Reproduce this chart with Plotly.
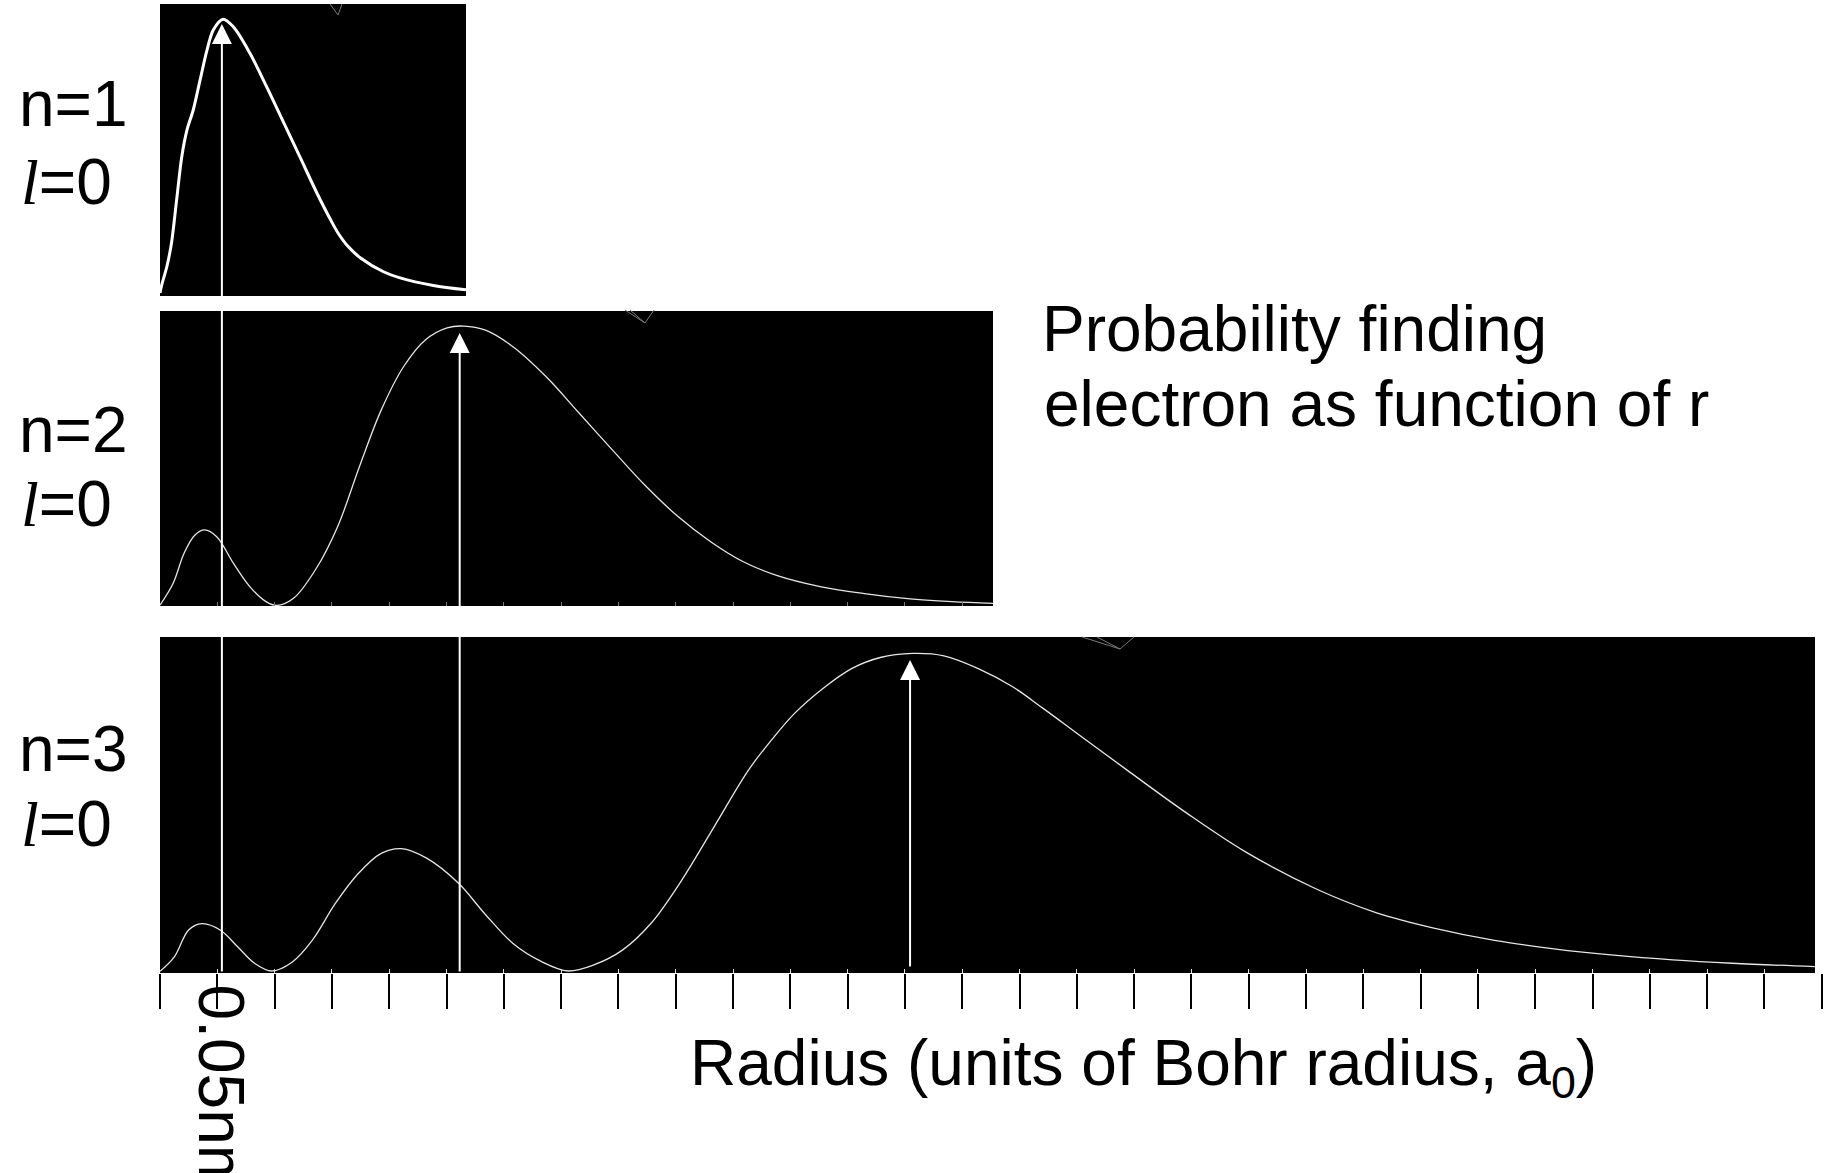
import plotly.graph_objects as go

W, H = 1832, 1173

# Radial probability of the hydrogen s states, r in Bohr radii (a0),
# probability as a fraction of each panel's height.
r_n1 = [0.00, 0.03, 0.12, 0.20, 0.29, 0.38, 0.47, 0.58, 0.70, 0.82, 0.93,
        1.10, 1.28, 1.57, 1.86, 2.15, 2.44, 2.74, 2.98, 3.11, 3.28, 3.50,
        3.90, 4.19, 4.77, 5.34]
p_n1 = [0.010, 0.038, 0.101, 0.181, 0.329, 0.477, 0.568, 0.637, 0.740,
        0.842, 0.911, 0.948, 0.922, 0.831, 0.717, 0.597, 0.477, 0.352,
        0.260, 0.215, 0.170, 0.130, 0.083, 0.062, 0.036, 0.021]

r_n2 = [0.00, 0.23, 0.42, 0.61, 0.78, 0.99, 1.28, 1.57, 1.85, 2.04, 2.33,
        2.71, 3.10, 3.48, 3.86, 4.25, 4.63, 5.01, 5.30, 5.68, 6.16, 6.74,
        7.31, 7.89, 8.46, 9.03, 9.61, 10.18, 10.76, 11.52, 12.29, 13.05,
        13.82, 14.54]
p_n2 = [0.003, 0.077, 0.179, 0.241, 0.258, 0.235, 0.145, 0.065, 0.015,
        0.002, 0.026, 0.122, 0.269, 0.472, 0.664, 0.811, 0.902, 0.943,
        0.949, 0.935, 0.879, 0.777, 0.655, 0.530, 0.410, 0.305, 0.218,
        0.150, 0.104, 0.066, 0.042, 0.025, 0.015, 0.009]

r_n3 = [0.00, 0.25, 0.50, 0.73, 1.05, 1.35, 1.65, 1.95, 2.31, 2.66, 3.06,
        3.46, 3.86, 4.21, 4.66, 5.21, 5.66, 6.16, 6.66, 7.12, 7.57, 8.07,
        8.57, 9.07, 9.67, 10.27, 10.67, 11.07, 11.57, 12.07, 12.57, 13.13,
        13.68, 14.28, 14.88, 15.40, 16.03, 16.86, 17.90, 18.93, 20.18,
        21.22, 22.25, 23.29, 24.33, 25.37, 26.40, 27.44, 28.88]
p_n3 = [0.005, 0.048, 0.128, 0.147, 0.128, 0.079, 0.029, 0.006, 0.033,
        0.098, 0.207, 0.296, 0.356, 0.370, 0.341, 0.267, 0.178, 0.088,
        0.034, 0.006, 0.024, 0.068, 0.148, 0.267, 0.435, 0.604, 0.693,
        0.772, 0.847, 0.906, 0.939, 0.951, 0.944, 0.906, 0.852, 0.789,
        0.710, 0.606, 0.478, 0.362, 0.250, 0.180, 0.133, 0.097, 0.072,
        0.053, 0.039, 0.029, 0.019]

# Most probable radius of each state (a0)
peak_r = [1.08, 5.23, 13.09]
peak_label = "0.05nm"

state_n = ["n=1", "n=2", "n=3"]
state_l = ["0", "0", "0"]

FONT = "Liberation Sans, Arial, sans-serif"
SERIF = "Liberation Serif, Times New Roman, serif"
FS = 64


def px(x):
    return x / W


def py(y):
    return 1 - y / H


fig = go.Figure()

fig.add_trace(go.Scatter(x=r_n1, y=p_n1, mode="lines", xaxis="x", yaxis="y",
                         line=dict(color="white", width=3, shape="spline",
                                   smoothing=0.9),
                         hoverinfo="skip", showlegend=False))
fig.add_trace(go.Scatter(x=r_n2, y=p_n2, mode="lines", xaxis="x2", yaxis="y2",
                         line=dict(color="#e6e6e6", width=1.3, shape="spline"),
                         hoverinfo="skip", showlegend=False))
fig.add_trace(go.Scatter(x=r_n3, y=p_n3, mode="lines", xaxis="x3", yaxis="y3",
                         line=dict(color="#e6e6e6", width=1.3, shape="spline"),
                         hoverinfo="skip", showlegend=False))
# carrier for the radius scale below the panels
fig.add_trace(go.Scatter(x=[0], y=[0], mode="markers", xaxis="x4", yaxis="y4",
                         marker=dict(opacity=0), hoverinfo="skip",
                         showlegend=False))

x0 = 160          # left edge of every panel, px
scale = 57.3      # px per a0
panels = [  # (right px, top px, bottom px)
    (466, 4, 296),
    (993, 311, 606),
    (1815, 637, 973),
]

hidden = dict(showgrid=False, zeroline=False, showline=False,
              showticklabels=False, fixedrange=True)

layout_axes = {}
shapes = []
for i, (xr, yt, yb) in enumerate(panels, start=1):
    sx = "" if i == 1 else str(i)
    tickc = ["rgba(0,0,0,0)", "#777777", "#dddddd"][i - 1]
    layout_axes["xaxis" + sx] = dict(
        domain=[px(x0), px(xr)], range=[0, (xr - x0) / scale],
        anchor="y" + sx, ticks="inside", ticklen=4, tickwidth=1,
        tickcolor=tickc, dtick=1, tick0=0, **hidden)
    layout_axes["yaxis" + sx] = dict(
        domain=[py(yb), py(yt)], range=[0, 1], anchor="x" + sx,
        ticks="", **hidden)
    # black panel background
    shapes.append(dict(type="rect", xref=f"x{sx} domain", yref=f"y{sx} domain",
                       x0=0, x1=1, y0=0, y1=1, fillcolor="black",
                       line=dict(width=0), layer="below"))

# radius scale: one tick per Bohr radius under the bottom panel
layout_axes["xaxis4"] = dict(
    domain=[px(x0), px(x0 + 29 * scale)], range=[0, 29], anchor="y4",
    ticks="outside", ticklen=35, tickwidth=2, tickcolor="black",
    dtick=1, tick0=0, **hidden)
layout_axes["yaxis4"] = dict(domain=[py(973), py(637)], range=[0, 1],
                             anchor="x4", ticks="", **hidden)

annotations = []

# arrows marking the most probable radius
tips = [24, 333, 660]
tails = [973, 973, 968]
for r, tip, tail in zip(peak_r, tips, tails):
    annotations.append(dict(
        x=r, y=py(tip), xref="x3", yref="paper", ax=0, ay=tail - tip,
        axref="pixel", ayref="pixel", showarrow=True, arrowhead=2,
        arrowsize=2.0, arrowwidth=2, arrowcolor="white", text=""))

# state labels
centers_n = [104, 430, 749]
centers_l = [182, 504, 824]
for n_txt, l_txt, cn, cl in zip(state_n, state_l, centers_n, centers_l):
    annotations.append(dict(
        x=px(17), y=py(cn), xref="paper", yref="paper", xanchor="left",
        yanchor="middle", showarrow=False, text=n_txt,
        font=dict(family=FONT, size=FS, color="black")))
    annotations.append(dict(
        x=px(19), y=py(cl), xref="paper", yref="paper", xanchor="left",
        yanchor="middle", showarrow=False,
        text=f'<span style="font-family:{SERIF}"><i>l</i></span>={l_txt}',
        font=dict(family=FONT, size=FS, color="black")))

annotations.append(dict(
    x=px(1040), y=py(329), xref="paper", yref="paper", xanchor="left",
    yanchor="middle", showarrow=False, text="Probability finding",
    font=dict(family=FONT, size=FS, color="black")))
annotations.append(dict(
    x=px(1042), y=py(404), xref="paper", yref="paper", xanchor="left",
    yanchor="middle", showarrow=False, text="electron as function of r",
    font=dict(family=FONT, size=FS, color="black")))

annotations.append(dict(
    x=px(688), y=py(1067), xref="paper", yref="paper", xanchor="left",
    yanchor="middle", showarrow=False,
    text="Radius (units of Bohr radius, a<sub>0</sub>)",
    font=dict(family=FONT, size=FS, color="black")))

annotations.append(dict(
    x=peak_r[0], y=py(983), xref="x3", yref="paper", xanchor="center",
    yanchor="top", showarrow=False, text=peak_label, textangle=90,
    font=dict(family=FONT, size=FS, color="black")))

# faint pointer marks along the panel tops
marks = [
    [(330, 4), (338, 15), (342, 4)],
    [(625, 310), (645, 323), (654, 310)],
    [(630, 310), (645, 323)],
    [(1082, 637), (1120, 649), (1134, 637)],
    [(1097, 637), (1120, 649)],
]
for pts in marks:
    path = "M " + " L ".join(f"{px(x):.5f},{py(y):.5f}" for x, y in pts)
    shapes.append(dict(type="path", xref="paper", yref="paper", path=path,
                       line=dict(color="#7a7a7a", width=1)))

fig.update_layout(
    width=W, height=H, autosize=False,
    margin=dict(l=0, r=0, t=0, b=0, pad=0),
    paper_bgcolor="white", plot_bgcolor="rgba(0,0,0,0)",
    showlegend=False, annotations=annotations, shapes=shapes,
    **layout_axes)

fig.write_html("out.html", config={"displayModeBar": False})
